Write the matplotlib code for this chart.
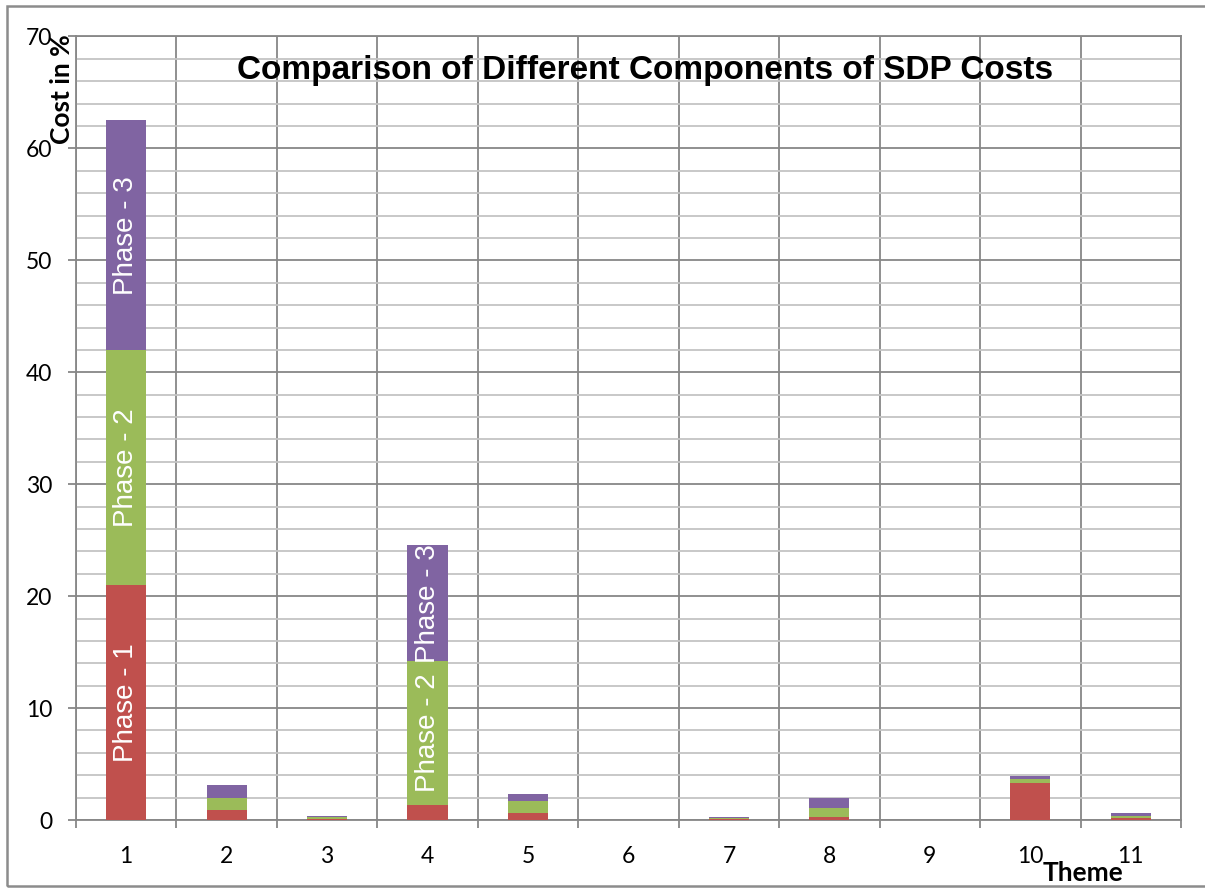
import matplotlib
matplotlib.use("Agg")
import matplotlib.pyplot as plt
from matplotlib.patches import Rectangle
from matplotlib.ticker import MultipleLocator, FixedLocator, NullFormatter
import numpy as np

# Cost share (%) per theme, split by project phase
themes = ["1", "2", "3", "4", "5", "6", "7", "8", "9", "10", "11"]
phase1 = [21.0, 0.9, 0.1, 1.35, 0.6, 0.0, 0.05, 0.25, 0.0, 3.35, 0.15]
phase2 = [21.0, 1.05, 0.15, 12.85, 1.1, 0.0, 0.15, 0.8, 0.0, 0.3, 0.2]
phase3 = [20.5, 1.15, 0.15, 10.35, 0.65, 0.0, 0.1, 0.9, 0.0, 0.25, 0.3]
series_names = ["Phase - 1", "Phase - 2", "Phase - 3"]
colors = ["#C0504D", "#9BBB59", "#8064A2"]

title = "Comparison of Different Components of SDP Costs"
ylabel = "Cost in %"
xlabel = "Theme"

W, H = 1205, 888
fig = plt.figure(figsize=(W / 100, H / 100), dpi=100)
ax = fig.add_axes([76 / W, 1 - 820 / H, (1181 - 76) / W, (820 - 36.5) / H])

x = np.arange(1, len(themes) + 1)
bottom = np.zeros(len(themes))
for vals, name, col in zip([phase1, phase2, phase3], series_names, colors):
    vals = np.array(vals)
    ax.bar(x, vals, width=0.4, bottom=bottom, color=col,
           edgecolor="none", zorder=3)
    for xi, b, v in zip(x, bottom, vals):
        if v > 8:
            ax.text(xi, b + v / 2, name, rotation=90, ha="center", va="center",
                    color="white", fontsize=20, family="Liberation Sans",
                    zorder=4)
    bottom = bottom + vals

ax.set_xlim(0.5, len(themes) + 0.5)
ax.set_ylim(0, 70)

# y axis: labelled majors every 10, light minor grid every 2
ax.yaxis.set_major_locator(MultipleLocator(10))
ax.yaxis.set_minor_locator(MultipleLocator(2))
ax.grid(axis="y", which="major", color="#878787", linewidth=1.3, zorder=0)
ax.grid(axis="y", which="minor", color="#c4c4c4", linewidth=1.3, zorder=0)

# x axis: labels at category centres, ticks and grid at category boundaries
ax.xaxis.set_major_locator(FixedLocator(x))
ax.set_xticklabels(themes)
ax.xaxis.set_minor_locator(FixedLocator(np.arange(0.5, len(themes) + 1, 1.0)))
ax.xaxis.set_minor_formatter(NullFormatter())
ax.grid(axis="x", which="minor", color="#878787", linewidth=1.3, zorder=0)

ax.tick_params(axis="x", which="major", length=0, pad=19, labelsize=16.5)
ax.tick_params(axis="x", which="minor", length=6, width=1.3, color="#878787",
               direction="out")
ax.tick_params(axis="y", which="major", length=6, width=1.3, color="#878787",
               direction="out", pad=11, labelsize=16.5)
ax.tick_params(axis="y", which="minor", length=0)
for lab in ax.get_xticklabels() + ax.get_yticklabels():
    lab.set_family("Lato")

for sp in ax.spines.values():
    sp.set_color("#878787")
    sp.set_linewidth(1.3)

ax.text(0.515, 0.957, title, transform=ax.transAxes, ha="center", va="center",
        fontsize=24, fontweight="bold", family="Liberation Sans", zorder=5)

fig.text(62 / W, 1 - 89 / H, ylabel, rotation=90, ha="center", va="center",
         fontsize=19, fontweight="bold", family="Lato")
fig.text(1083 / W, 1 - 873 / H, xlabel, ha="center", va="center",
         fontsize=19, fontweight="bold", family="Lato")

# chart frame
fig.patches.append(Rectangle((7 / W, 1 - 886 / H), 1.05, (886 - 6) / H,
                             transform=fig.transFigure, fill=False,
                             edgecolor="#8c8c8c", linewidth=1.8))

fig.savefig("out.png", dpi=100)
